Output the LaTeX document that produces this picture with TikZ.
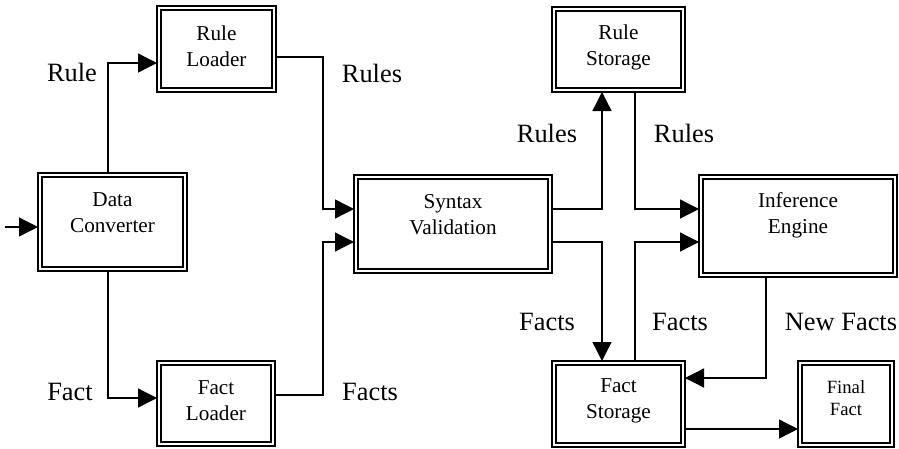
\documentclass[tikz,border=0pt]{standalone}
\usepackage{fontspec}
\setmainfont{Liberation Serif}
\usetikzlibrary{arrows.meta}
\begin{document}
\begin{tikzpicture}[x=1pt,y=-1pt,
  box/.style={draw, line width=1.2pt, anchor=north west, inner sep=0pt, outer sep=0pt},
  boxtext/.style={align=center, font=\fontsize{21.2}{26}\selectfont, inner sep=0pt},
  smalltext/.style={align=center, font=\fontsize{18.7}{22}\selectfont, inner sep=0pt},
  lab/.style={font=\fontsize{26.4}{30}\selectfont, inner sep=0pt},
  conn/.style={line width=1.3pt},
  arr/.style={conn, -{Triangle[length=19pt,width=19pt]}}]
\useasboundingbox (0,0) rectangle (899,448);

% processing blocks (outer frame)
\node[box, minimum width=149pt, minimum height=98pt] (dc) at (38,173) {};
\node[box, minimum width=119pt, minimum height=86pt] (rl) at (157,6) {};
\node[box, minimum width=118pt, minimum height=85pt] (fl) at (157,361) {};
\node[box, minimum width=198pt, minimum height=98pt] (sv) at (354,175) {};
\node[box, minimum width=133pt, minimum height=85pt] (rs) at (552,7) {};
\node[box, minimum width=198pt, minimum height=102pt] (ie) at (699,175) {};
\node[box, minimum width=133pt, minimum height=86pt] (fs) at (552,361) {};
\node[box, minimum width=96pt, minimum height=86pt] (ff) at (798,361) {};

% inner frame of each block
\foreach \n in {dc,rl,fl,sv,rs,ie,fs,ff}
  \draw[line width=2pt] ([shift={(4.2pt,-4.2pt)}]\n.north west) rectangle ([shift={(-4.2pt,4.2pt)}]\n.south east);

% block captions
\node[boxtext] (dct) at ([yshift=-40pt]dc.north) {Data\\Converter};
\node[boxtext] (rlt) at ([yshift=-40pt]rl.north) {Rule\\Loader};
\node[boxtext] (flt) at ([yshift=-40pt]fl.north) {Fact\\Loader};
\node[boxtext] (svt) at ([yshift=-40pt]sv.north) {Syntax\\Validation};
\node[boxtext] (rst) at ([yshift=-40pt]rs.north) {Rule\\Storage};
\node[boxtext] (iet) at ([yshift=-40pt]ie.north) {Inference\\Engine};
\node[boxtext] (fst) at ([yshift=-40pt]fs.north) {Fact\\Storage};
\node[smalltext] (fft) at ([yshift=-37pt]ff.north) {Final\\Fact};

% routing points
\coordinate (in) at (5,227);
\coordinate (c1) at (108,63);
\coordinate (c2) at (108,398);
\coordinate (c3) at (323,57);
\coordinate (c4) at (323,209);
\coordinate (c5) at (323,395);
\coordinate (c6) at (323,242);
\coordinate (c7) at (602,209);
\coordinate (c8) at (635,209);
\coordinate (c9) at (602,242);
\coordinate (c10) at (635,242);
\coordinate (c11) at (766,378);
\coordinate (c12) at (700,429);

% connectors
\draw[arr] (in) -- (in -| dc.west);
\draw[arr] (dc.north -| c1) -- (c1) -- (c1 -| rl.west);
\draw[arr] (dc.south -| c2) -- (c2) -- (c2 -| fl.west);
\draw[arr] (rl.east |- c3) -- (c3) -- (c4) -- (c4 -| sv.west);
\draw[arr] (fl.east |- c5) -- (c5) -- (c6) -- (c6 -| sv.west);
\draw[arr] (sv.east |- c7) -- (c7) -- (c7 |- rs.south);
\draw[arr] (rs.south -| c8) -- (c8) -- (c8 -| ie.west);
\draw[arr] (sv.east |- c9) -- (c9) -- (c9 |- fs.north);
\draw[arr] (fs.north -| c10) -- (c10) -- (c10 -| ie.west);
\draw[arr] (ie.south -| c11) -- (c11) -- (c11 -| fs.east);
\draw[arr] (fs.east |- c12) -- (c12 -| ff.west);

% connector labels
\node[lab] (l1) at (72,72) {Rule};
\node[lab] (l2) at (70,392) {Fact};
\node[lab] (l3) at (372,73) {Rules};
\node[lab] (l4) at (370,392) {Facts};
\node[lab] (l5) at (547,133) {Rules};
\node[lab] (l6) at (684,133) {Rules};
\node[lab] (l7) at (547,322) {Facts};
\node[lab] (l8) at (680,322) {Facts};
\node[lab] (l9) at (841,322) {New Facts};
\end{tikzpicture}
\end{document}
